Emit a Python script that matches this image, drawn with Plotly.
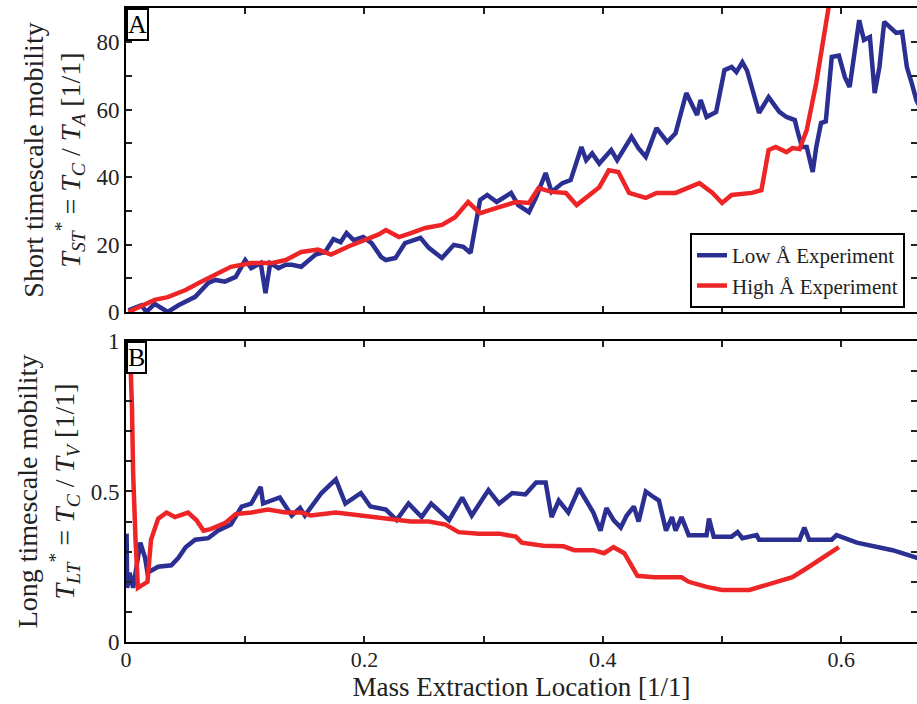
import plotly.graph_objects as go
from plotly.subplots import make_subplots

# ---------------- data ----------------
# Panel A: short timescale mobility
low_st_x = [0.002, 0.013, 0.017, 0.024, 0.035, 0.044, 0.058, 0.069, 0.075, 0.083, 0.092, 0.100, 0.105,
            0.113, 0.117, 0.121, 0.128, 0.134, 0.139, 0.147, 0.159, 0.167, 0.174, 0.180, 0.185, 0.191,
            0.199, 0.206, 0.214, 0.218, 0.226, 0.234, 0.247, 0.254, 0.265, 0.275, 0.283, 0.289, 0.297,
            0.303, 0.311, 0.323, 0.329, 0.338, 0.344, 0.352, 0.357, 0.366, 0.373, 0.382, 0.386, 0.391,
            0.397, 0.407, 0.412, 0.424, 0.430, 0.436, 0.445, 0.454, 0.461, 0.470, 0.479, 0.482, 0.487,
            0.495, 0.502, 0.508, 0.512, 0.517, 0.521, 0.531, 0.539, 0.548, 0.554, 0.561, 0.563, 0.567,
            0.571, 0.576, 0.579, 0.583, 0.587, 0.592, 0.598, 0.603, 0.607, 0.611, 0.615, 0.619, 0.624,
            0.628, 0.632, 0.636, 0.642, 0.646, 0.651, 0.655, 0.659, 0.663, 0.670]
low_st_y = [0.5, 2.0, 0.0, 2.4, 0.0, 2.0, 4.5, 8.6, 9.5, 9.0, 10.4, 15.4, 13.0,
            14.5, 5.6, 14.5, 13.0, 14.0, 14.0, 13.4, 17.0, 17.8, 21.6, 20.7, 23.4, 21.3,
            22.2, 20.4, 16.3, 15.4, 16.0, 20.4, 22.0, 19.0, 16.0, 19.9, 19.3, 17.5, 33.2,
            34.7, 32.6, 35.3, 31.7, 29.6, 34.0, 41.2, 35.6, 38.2, 39.1, 48.9, 45.0, 47.0,
            44.0, 48.0, 45.0, 51.9, 48.5, 46.0, 54.5, 50.4, 53.0, 64.9, 58.4, 62.8, 57.8,
            59.3, 71.7, 72.6, 71.1, 74.0, 71.5, 59.0, 63.7, 59.3, 57.8, 56.9, 54.0, 48.9,
            48.9, 41.5, 48.9, 56.0, 56.5, 75.6, 76.0, 69.6, 66.7, 76.7, 86.5, 80.6, 81.5,
            64.9, 72.6, 86.0, 84.0, 82.7, 83.0, 72.6, 67.9, 62.8, 58.0]

high_st_x = [0.002, 0.010, 0.024, 0.035, 0.050, 0.061, 0.075, 0.088, 0.105, 0.122, 0.134, 0.147,
             0.161, 0.172, 0.187, 0.201, 0.212, 0.218, 0.229, 0.239, 0.251, 0.265, 0.276, 0.287,
             0.297, 0.313, 0.327, 0.338, 0.346, 0.357, 0.369, 0.378, 0.388, 0.397, 0.405, 0.413,
             0.422, 0.436, 0.445, 0.461, 0.481, 0.492, 0.500, 0.508, 0.525, 0.533, 0.539, 0.545,
             0.554, 0.559, 0.565, 0.571, 0.579, 0.584, 0.588, 0.592]
high_st_y = [0.0, 1.2, 3.6, 4.4, 6.5, 8.6, 11.0, 13.4, 14.5, 14.5, 15.4, 17.8,
             18.5, 17.0, 19.5, 21.3, 23.0, 24.3, 22.2, 23.4, 24.9, 25.8, 28.1, 32.6,
             29.3, 31.1, 32.6, 32.3, 36.7, 35.6, 35.3, 31.7, 34.7, 37.0, 42.0, 41.5,
             35.3, 33.8, 35.3, 35.3, 38.2, 35.3, 32.3, 34.7, 35.3, 36.1, 48.0, 48.9,
             47.4, 48.6, 48.3, 53.9, 67.9, 79.7, 89.5, 96.0]

# Panel B: long timescale mobility
low_lt_x = [0.0005, 0.001, 0.003, 0.006, 0.012, 0.016, 0.018, 0.027, 0.038, 0.044, 0.050, 0.058,
            0.069, 0.077, 0.088, 0.097, 0.105, 0.113, 0.115, 0.122, 0.129, 0.139, 0.146, 0.150,
            0.164, 0.176, 0.184, 0.197, 0.205, 0.218, 0.227, 0.237, 0.248, 0.256, 0.271, 0.282,
            0.290, 0.304, 0.313, 0.324, 0.335, 0.344, 0.352, 0.357, 0.363, 0.371, 0.380, 0.386,
            0.392, 0.398, 0.403, 0.409, 0.415, 0.420, 0.426, 0.430, 0.436, 0.443, 0.447, 0.453,
            0.458, 0.461, 0.466, 0.472, 0.487, 0.489, 0.493, 0.508, 0.513, 0.517, 0.529, 0.531,
            0.565, 0.569, 0.573, 0.592, 0.596, 0.613, 0.626, 0.643, 0.663, 0.670]
low_lt_y = [0.36, 0.18, 0.23, 0.18, 0.33, 0.28, 0.23, 0.25, 0.255, 0.28, 0.315, 0.34,
            0.345, 0.37, 0.39, 0.45, 0.46, 0.515, 0.46, 0.47, 0.48, 0.42, 0.445, 0.42,
            0.495, 0.54, 0.46, 0.495, 0.45, 0.44, 0.405, 0.46, 0.415, 0.46, 0.405, 0.48,
            0.42, 0.505, 0.46, 0.495, 0.49, 0.53, 0.53, 0.415, 0.47, 0.43, 0.51, 0.47,
            0.43, 0.37, 0.445, 0.405, 0.38, 0.42, 0.45, 0.40, 0.50, 0.48, 0.47, 0.37,
            0.415, 0.37, 0.415, 0.355, 0.355, 0.41, 0.35, 0.35, 0.365, 0.345, 0.355, 0.34,
            0.34, 0.38, 0.34, 0.34, 0.355, 0.33, 0.32, 0.305, 0.28, 0.27]

high_lt_x = [0.001, 0.004, 0.005, 0.006, 0.008, 0.010, 0.018, 0.021, 0.027, 0.034, 0.041, 0.052,
             0.059, 0.065, 0.071, 0.083, 0.092, 0.105, 0.119, 0.134, 0.147, 0.155, 0.176, 0.197,
             0.218, 0.239, 0.254, 0.268, 0.279, 0.296, 0.313, 0.327, 0.332, 0.350, 0.367, 0.376,
             0.392, 0.401, 0.409, 0.418, 0.429, 0.443, 0.466, 0.472, 0.487, 0.500, 0.523, 0.537,
             0.559, 0.571, 0.584, 0.598]
high_lt_y = [0.99, 0.90, 0.78, 0.56, 0.34, 0.18, 0.20, 0.34, 0.41, 0.43, 0.415, 0.43,
             0.405, 0.37, 0.375, 0.395, 0.425, 0.43, 0.44, 0.43, 0.43, 0.42, 0.43, 0.42,
             0.41, 0.40, 0.40, 0.39, 0.365, 0.36, 0.36, 0.35, 0.33, 0.32, 0.318, 0.305,
             0.305, 0.295, 0.315, 0.295, 0.22, 0.215, 0.215, 0.20, 0.183, 0.173, 0.173, 0.19,
             0.215, 0.245, 0.28, 0.315]

x_label_vals = [0, 0.2, 0.4, 0.6]
x_label_text = ["0", "0.2", "0.4", "0.6"]
x_minor_vals = [0.1, 0.3, 0.5]
ya_label_vals = [0, 20, 40, 60, 80]
ya_minor_vals = [10, 30, 50, 70]
yb_label_vals = [0, 0.5, 1.0]
yb_label_text = ["0", "0.5", "1"]
yb_minor_vals = [0.1, 0.2, 0.3, 0.4, 0.6, 0.7, 0.8, 0.9]

BLUE = "#2a2f91"
RED = "#ee2526"
FONT = "Liberation Serif"
TXT = "#222"

fig = make_subplots(rows=2, cols=1, shared_xaxes=False, vertical_spacing=0.0)

fig.add_trace(go.Scatter(x=low_st_x, y=low_st_y, mode="lines", name="Low Å Experiment",
                         line=dict(color=BLUE, width=4.5)), row=1, col=1)
fig.add_trace(go.Scatter(x=high_st_x, y=high_st_y, mode="lines", name="High Å Experiment",
                         line=dict(color=RED, width=4.5)), row=1, col=1)
fig.add_trace(go.Scatter(x=low_lt_x, y=low_lt_y, mode="lines", showlegend=False,
                         line=dict(color=BLUE, width=4.5)), row=2, col=1)
fig.add_trace(go.Scatter(x=high_lt_x, y=high_lt_y, mode="lines", showlegend=False,
                         line=dict(color=RED, width=4.5)), row=2, col=1)


def minor(vals):
    return dict(tickmode="array", tickvals=vals, ticks="inside", ticklen=6, tickwidth=2,
                tickcolor=TXT, showgrid=False)


axis_common = dict(showline=True, linecolor="black", linewidth=2, mirror="ticks",
                   ticks="inside", ticklen=6, tickwidth=2, tickcolor=TXT,
                   showgrid=False, zeroline=False, automargin=False, tickmode="array",
                   tickfont=dict(family=FONT, size=23, color=TXT))

XR = [0, 0.6635]
fig.update_xaxes(**axis_common)
fig.update_yaxes(**axis_common)

fig.update_layout(
    xaxis=dict(domain=[0, 1], range=XR, tickvals=x_label_vals, showticklabels=False,
               minor=minor(x_minor_vals), anchor="y"),
    xaxis2=dict(domain=[0, 1], range=XR, tickvals=x_label_vals, ticktext=x_label_text,
                minor=minor(x_minor_vals), anchor="y2", ticklabelstandoff=-3,
                tickfont=dict(family=FONT, size=22, color=TXT),
                title=dict(text="Mass Extraction Location [1/1]", standoff=0,
                           font=dict(family=FONT, size=27, color=TXT))),
    yaxis=dict(domain=[0.5205, 1.0], range=[0, 90.1], tickvals=ya_label_vals,
               minor=minor(ya_minor_vals),
               title=dict(text="Short timescale mobility<br><i>T</i><sub><i>ST</i></sub><sup>*</sup> = "
                               "<i>T</i><sub><i>C</i></sub> / <i>T</i><sub><i>A</i></sub> [1/1]",
                          standoff=8, font=dict(family=FONT, size=28, color=TXT))),
    yaxis2=dict(domain=[0, 0.4748], range=[0, 1.0], tickvals=yb_label_vals, ticktext=yb_label_text,
                minor=minor(yb_minor_vals),
                title=dict(text="Long timescale mobility<br><i>T</i><sub><i>LT</i></sub><sup>*</sup> = "
                                "<i>T</i><sub><i>C</i></sub> / <i>T</i><sub><i>V</i></sub> [1/1]",
                           standoff=8, font=dict(family=FONT, size=28, color=TXT))),
    width=917, height=704,
    margin=dict(l=126, r=0, t=8, b=62),
    paper_bgcolor="white", plot_bgcolor="white",
    font=dict(family=FONT, color=TXT),
    legend=dict(x=0.713, y=0.645, xanchor="left", yanchor="top",
                bordercolor="black", borderwidth=2, bgcolor="white",
                font=dict(family=FONT, size=21, color=TXT),
                tracegroupgap=0, itemwidth=30),
    showlegend=True,
)

for label, xr, yr in [("A", "x domain", "y domain"), ("B", "x2 domain", "y2 domain")]:
    fig.add_annotation(text=label, xref=xr, yref=yr,
                       x=0.0, y=1.0, xanchor="left", yanchor="top", showarrow=False,
                       font=dict(family=FONT, size=26, color="black"),
                       bordercolor="black", borderwidth=2, borderpad=0, bgcolor="white")

fig.write_html("out.html")
